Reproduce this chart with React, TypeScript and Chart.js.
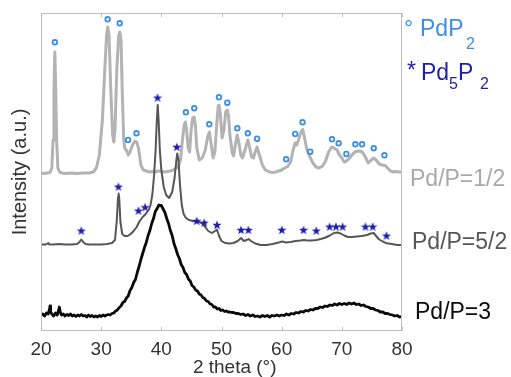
import React, { useEffect, useRef } from "react";
import { Chart, registerables } from "chart.js";

Chart.register(...registerables);

// ---- data (2 theta in degrees, intensity in arbitrary units) ----
const xTicks = [20, 30, 40, 50, 60, 70, 80];
const seriesLabels = ["Pd/P=1/2", "Pd/P=5/2", "Pd/P=3"];

const grayCurve: [number, number][] = [
  [20.0, 158], [20.5, 157.5], [21.0, 158], [21.5, 158.5], [21.8, 163], [22.0, 191], [22.15, 241], [22.3, 279],
  [22.45, 241], [22.6, 191], [22.8, 163], [23.1, 159], [23.5, 158], [24, 157.5], [25, 158], [26, 157.5],
  [27, 158], [28, 158], [28.7, 159], [29.2, 163], [29.7, 176], [30.2, 211], [30.6, 261], [30.9, 296],
  [31.1, 304], [31.3, 296], [31.6, 241], [31.9, 196], [32.1, 189], [32.3, 201], [32.6, 261], [32.9, 295],
  [33.1, 299], [33.3, 291], [33.5, 241], [33.75, 191], [33.95, 182], [34.2, 181], [34.5, 176], [34.8, 179],
  [35.2, 186], [35.6, 190], [35.9, 189], [36.2, 183], [36.6, 166], [37.0, 161], [37.5, 160], [38, 159],
  [38.5, 159.5], [39, 159], [39.5, 160], [40, 159.5], [40.5, 159], [41, 159.5], [41.5, 160], [42, 161],
  [42.5, 163], [42.9, 166], [43.2, 171], [43.5, 191], [43.8, 206], [44.0, 209], [44.2, 201], [44.45, 183],
  [44.7, 179], [44.95, 201], [45.2, 213], [45.45, 214], [45.65, 206], [45.9, 183], [46.3, 171], [46.8, 173],
  [47.3, 181], [47.7, 194], [48.0, 199], [48.3, 186], [48.6, 173], [48.9, 179], [49.2, 206], [49.45, 225],
  [49.6, 226], [49.8, 216], [50.1, 193], [50.4, 201], [50.7, 219], [50.95, 221], [51.15, 216], [51.4, 196],
  [51.8, 178], [52.0, 175], [52.3, 186], [52.6, 196], [52.9, 188], [53.2, 176], [53.5, 173], [53.9, 181],
  [54.4, 191], [54.7, 183], [55.0, 174], [55.3, 173], [55.6, 179], [55.9, 184], [56.3, 176], [56.8, 166],
  [57.3, 161], [58, 159], [58.5, 158.5], [59, 159], [59.5, 160], [60, 161], [60.5, 163], [61, 164.5],
  [61.5, 169], [61.9, 181], [62.25, 188], [62.5, 186], [62.8, 191], [63.2, 199], [63.5, 201.5], [63.8, 193],
  [64.2, 181], [64.7, 174], [65.2, 168], [65.7, 164], [66.2, 163], [66.8, 165], [67.3, 170], [67.8, 179],
  [68.3, 184], [68.7, 183], [69.2, 181], [69.6, 176], [70.0, 173], [70.4, 169], [70.8, 170], [71.3, 173],
  [71.8, 177], [72.3, 179.5], [72.9, 180], [73.4, 179], [73.9, 174], [74.4, 168], [74.9, 171], [75.3, 173],
  [75.7, 171], [76.2, 167], [76.7, 166], [77.2, 165.5], [77.6, 163], [78.1, 160], [78.6, 159], [79.0, 159.5],
  [79.5, 159], [80, 159],
];

const darkCurve: [number, number][] = [
  [20.0, 86.5], [20.8, 86.5], [21.2, 88], [21.4, 86.5], [22, 86.5], [23, 87], [24, 86.5], [25, 86.5],
  [26, 87], [26.4, 89], [26.7, 91.5], [27.0, 89], [27.4, 87], [28, 86.5], [29, 86.5], [30, 86.5],
  [31, 87], [31.8, 88], [32.3, 91], [32.6, 111], [32.8, 134], [32.9, 137.5], [33.0, 133], [33.2, 109],
  [33.5, 97], [33.9, 95], [34.4, 95], [34.9, 97], [35.4, 100], [35.9, 104], [36.4, 110], [36.9, 114],
  [37.4, 117], [37.9, 121], [38.2, 126], [38.5, 136], [38.8, 156], [39.05, 181], [39.25, 211], [39.4, 226],
  [39.55, 211], [39.75, 181], [40.0, 161], [40.4, 144], [40.8, 136], [41.3, 133], [41.8, 139], [42.2, 153],
  [42.5, 171], [42.65, 177.5], [42.85, 171], [43.1, 146], [43.4, 126], [43.7, 117], [44.1, 113], [44.6, 111],
  [45.2, 110], [45.8, 109.5], [46.3, 109], [46.9, 107], [47.3, 104], [47.8, 100], [48.4, 98], [48.9, 100],
  [49.25, 101.5], [49.6, 95], [50.0, 90], [50.6, 88], [51.3, 87.5], [52.0, 88], [52.7, 90], [53.25, 93],
  [53.7, 90], [54.2, 91], [54.5, 92], [54.9, 90], [55.6, 87.5], [56.5, 86], [57.5, 86], [58.5, 87],
  [59.5, 88.5], [60.1, 89.5], [60.7, 88.5], [61.5, 89], [62.3, 90], [63.1, 90.5], [63.7, 91], [64.3, 90.5],
  [65.0, 90.5], [65.8, 91], [66.5, 92], [67.3, 93.5], [68.0, 95.5], [68.7, 98], [69.2, 98.5], [69.8, 97.5],
  [70.4, 95.5], [71.0, 94], [71.7, 94], [72.5, 94.5], [73.3, 95], [74.2, 96], [74.8, 97.5], [75.3, 98],
  [75.7, 95], [76.2, 91.5], [76.8, 89.5], [77.5, 87.7], [78.3, 87], [79.2, 86], [80, 86],
];

const blackCurve: [number, number][] = [
  [20.0, 16], [20.3, 17], [20.6, 15], [20.9, 18], [21.2, 17], [21.4, 22], [21.5, 25], [21.6, 19],
  [21.8, 17], [22.1, 15], [22.4, 18], [22.7, 16], [22.9, 20], [23.05, 24], [23.2, 19], [23.4, 16],
  [23.7, 17], [24.0, 15], [24.3, 16.5], [24.6, 15.5], [24.9, 17], [25.2, 15], [25.5, 16], [25.8, 14.5],
  [26.1, 16], [26.4, 15], [26.7, 16.5], [27.0, 15], [27.3, 15.5], [27.6, 14], [27.9, 16], [28.2, 14.5],
  [28.5, 15.5], [28.8, 14], [29.1, 15], [29.4, 14], [29.7, 15.5], [30.0, 14.5], [30.3, 16], [30.6, 15],
  [30.9, 16], [31.2, 16.5], [31.5, 16], [31.8, 17.5], [32.1, 18], [32.4, 20], [32.7, 21], [33.0, 23.5],
  [33.3, 25], [33.6, 28.5], [33.9, 29.5], [34.2, 33], [34.5, 35], [34.8, 40.5], [35.1, 43.5], [35.4, 48.5],
  [35.7, 51.5], [36.0, 58.5], [36.3, 64.5], [36.6, 71.5], [36.9, 77.5], [37.2, 83.5], [37.5, 88.5], [37.8, 95.5],
  [38.1, 100.5], [38.4, 107.5], [38.7, 112.5], [39.0, 119.5], [39.3, 122.5], [39.6, 126], [39.8, 125.5], [40.0, 125.5],
  [40.3, 122], [40.6, 118.5], [40.9, 112.5], [41.2, 107.5], [41.5, 100.5], [41.8, 95.5], [42.1, 87.5], [42.4, 82.5],
  [42.7, 76.5], [43.0, 72.5], [43.3, 66.5], [43.6, 63.5], [43.9, 58.5], [44.2, 56.5], [44.5, 52], [44.8, 50],
  [45.1, 45.5], [45.4, 44], [45.7, 41], [46.0, 40], [46.3, 37], [46.6, 36], [46.9, 33.5], [47.2, 32.5],
  [47.5, 30], [47.8, 29.5], [48.1, 27], [48.4, 26.5], [48.7, 24], [49.0, 24], [49.3, 22], [49.6, 22.5],
  [49.9, 20.5], [50.2, 21], [50.5, 19.5], [50.8, 20], [51.1, 19], [51.4, 19], [51.7, 18.5], [52.0, 18.5],
  [52.4, 17.5], [52.8, 17.5], [53.2, 16.5], [53.6, 17], [54.0, 15.5], [54.4, 16.5], [54.8, 15], [55.2, 16],
  [55.6, 14.5], [56.0, 15], [56.4, 14], [56.8, 15.5], [57.2, 14.5], [57.6, 15.5], [58.0, 14], [58.4, 15.5],
  [58.8, 15], [59.2, 16], [59.6, 15], [60.0, 16], [60.4, 15.5], [60.8, 17], [61.2, 16], [61.6, 17.5],
  [62.0, 17], [62.4, 18.5], [62.8, 18], [63.2, 19.5], [63.6, 19], [64.0, 20.5], [64.4, 20], [64.8, 21.5],
  [65.2, 21], [65.6, 22.5], [66.0, 22.5], [66.4, 24], [66.8, 23.5], [67.2, 25], [67.6, 24.5], [68.0, 26],
  [68.4, 25.5], [68.8, 27], [69.2, 26], [69.6, 27.5], [70.0, 26.5], [70.4, 27.5], [70.8, 26.5], [71.2, 28],
  [71.6, 27], [72.0, 28], [72.4, 26.5], [72.8, 27], [73.2, 25.5], [73.6, 26], [74.0, 24.5], [74.4, 24],
  [74.8, 22.5], [75.2, 22.5], [75.6, 21], [76.0, 20.5], [76.4, 19], [76.8, 19], [77.2, 17.5], [77.6, 17.5],
  [78.0, 16.5], [78.4, 16], [78.8, 15], [79.2, 15.5], [79.6, 14], [80.0, 14.5],
];

// phase markers (peak position, marker height)
const pdp2Markers: [number, number][] = [
  [22.3, 288.7], [31.08, 311.7], [33.08, 307.7], [34.47, 191], [35.87, 197.7], [44.08, 218.7],
  [45.47, 222.7], [47.97, 206.7], [49.58, 233.7], [50.97, 228.3], [52.63, 202.7], [54.37, 197.7],
  [55.92, 192.3], [60.75, 171.7], [62.25, 197], [63.47, 208.7], [64.75, 179.3], [68.37, 191.7],
  [69.47, 187.7], [70.75, 177], [72.25, 186.7], [73.37, 186.7], [75.3, 182.7], [77.08, 175.7],
];

const pd5p2Markers: [number, number][] = [
  [26.7, 100.3], [32.87, 144.3], [36.2, 120.3], [37.3, 123.7], [39.37, 233.3], [42.58, 184],
  [45.87, 110], [47.13, 108.3], [49.25, 106], [53.25, 101], [54.47, 101], [60.03, 101],
  [63.63, 101], [65.75, 100.3], [67.97, 104.3], [69.03, 104.3], [70.13, 104.3], [73.92, 104.3],
  [75.13, 104.3], [77.42, 95.3],
];

const FONT = "'Liberation Sans', Arial, Helvetica, sans-serif";
const PDP2_COLOR = "#3d8fe6";
const PD5P2_COLOR = "#1f1fae";
const seriesColors = ["#b3b3b3", "#565656", "#0a0a0a"];

function toXY(arr: [number, number][]) {
  return arr.map(([x, y]) => ({ x, y }));
}

function makeStar(color: string) {
  const c = document.createElement("canvas");
  c.width = 10;
  c.height = 10;
  const g = c.getContext("2d")!;
  const R = 4.8, r = 2.0, cx = 5, cy = 5.3;
  g.beginPath();
  for (let i = 0; i < 10; i++) {
    const ang = -Math.PI / 2 + (i * Math.PI) / 5;
    const rad = i % 2 === 0 ? R : r;
    const px = cx + rad * Math.cos(ang);
    const py = cy + rad * Math.sin(ang);
    if (i === 0) g.moveTo(px, py);
    else g.lineTo(px, py);
  }
  g.closePath();
  g.fillStyle = color;
  g.fill();
  return c;
}

const decorPlugin = {
  id: "decor",
  afterDatasetsDraw(chart: any) {
    const { ctx, chartArea: a, scales } = chart;
    const xs = scales.x;
    const ys = scales.y;
    ctx.save();
    // frame
    ctx.strokeStyle = "#bdbdbd";
    ctx.lineWidth = 1;
    ctx.strokeRect(a.left + 0.5, a.top + 0.5, a.right - a.left - 1, a.bottom - a.top - 1);
    // inward tick marks, top and bottom
    ctx.beginPath();
    for (const t of xTicks) {
      const px = Math.round(xs.getPixelForValue(t)) + 0.5;
      ctx.moveTo(px, a.bottom);
      ctx.lineTo(px, a.bottom - 4);
      ctx.moveTo(px, a.top);
      ctx.lineTo(px, a.top + 4);
    }
    ctx.stroke();

    // series labels at the right end of each curve
    const curves = [grayCurve, darkCurve, blackCurve];
    const dy = [8, -2, -4];
    const dx = [8, 10, 13];
    ctx.font = `23px ${FONT}`;
    ctx.textBaseline = "middle";
    ctx.textAlign = "left";
    curves.forEach((c, i) => {
      const last = c[c.length - 1];
      ctx.fillStyle = i === 0 ? "#a9a9a9" : seriesColors[i];
      ctx.fillText(seriesLabels[i], a.right + dx[i], ys.getPixelForValue(last[1]) + dy[i]);
    });

    // phase key
    ctx.textBaseline = "alphabetic";
    const R = a.right;
    const T = a.top;
    ctx.fillStyle = PDP2_COLOR;
    ctx.font = `23px ${FONT}`;
    ctx.fillText("°", R + 2, T + 23);
    ctx.fillText("PdP", R + 18, T + 23);
    ctx.font = `16px ${FONT}`;
    ctx.fillText("2", R + 64, T + 35.5);

    ctx.fillStyle = PD5P2_COLOR;
    ctx.font = `23px ${FONT}`;
    ctx.fillText("*", R + 5, T + 65);
    ctx.fillText("Pd", R + 19, T + 67);
    ctx.font = `16px ${FONT}`;
    ctx.fillText("5", R + 47, T + 75.5);
    ctx.font = `23px ${FONT}`;
    ctx.fillText("P", R + 56, T + 67);
    ctx.font = `16px ${FONT}`;
    ctx.fillText("2", R + 78, T + 75.5);
    ctx.restore();
  },
};

export default function App() {
  const ref = useRef<HTMLCanvasElement | null>(null);
  useEffect(() => {
    if (!ref.current) return;
    const star = makeStar(PD5P2_COLOR);
    const chart = new Chart(ref.current, {
      type: "scatter",
      data: {
        datasets: [
          {
            label: "PdP2",
            data: toXY(pdp2Markers),
            showLine: false,
            pointStyle: "circle",
            pointRadius: 2.3,
            pointBorderWidth: 1.8,
            pointBorderColor: PDP2_COLOR,
            pointBackgroundColor: "#ffffff",
          },
          {
            label: "Pd5P2",
            data: toXY(pd5p2Markers),
            showLine: false,
            pointStyle: star as any,
            pointRadius: 4,
          },
          {
            label: seriesLabels[2],
            data: toXY(blackCurve),
            showLine: true,
            borderColor: seriesColors[2],
            borderWidth: 2.8,
            pointRadius: 0,
            tension: 0,
            borderJoinStyle: "round",
          },
          {
            label: seriesLabels[1],
            data: toXY(darkCurve),
            showLine: true,
            borderColor: seriesColors[1],
            borderWidth: 2,
            pointRadius: 0,
            tension: 0,
            borderJoinStyle: "round",
          },
          {
            label: seriesLabels[0],
            data: toXY(grayCurve),
            showLine: true,
            borderColor: seriesColors[0],
            borderWidth: 3,
            pointRadius: 0,
            tension: 0,
            borderJoinStyle: "round",
          },
        ],
      },
      options: {
        responsive: false,
        animation: false,
        events: [],
        layout: { padding: { top: 13, right: 109, left: 0, bottom: 0 } },
        plugins: { legend: { display: false }, tooltip: { enabled: false } },
        scales: {
          x: {
            type: "linear",
            min: 20,
            max: 80,
            afterFit: (s: any) => {
              s.height = 46;
            },
            afterBuildTicks: (s: any) => {
              s.ticks = xTicks.map((v) => ({ value: v }));
            },
            grid: { display: false, drawTicks: false },
            border: { display: false },
            ticks: {
              color: "#333333",
              padding: 7,
              font: { family: FONT, size: 19 },
            },
            title: {
              display: true,
              text: "     2 theta (°)",
              color: "#333333",
              font: { family: FONT, size: 19, lineHeight: 0.95 },
              padding: { top: 0, bottom: 0 },
            },
          },
          y: {
            type: "linear",
            min: 0,
            max: 318,
            afterFit: (s: any) => {
              s.width = 41;
            },
            grid: { display: false, drawTicks: false },
            border: { display: false },
            ticks: { display: false },
            title: {
              display: true,
              text: "Intensity (a.u.)",
              color: "#333333",
              font: { family: FONT, size: 20 },
              padding: { top: 8.5, bottom: 0 },
            },
          },
        },
      },
      plugins: [decorPlugin],
    });
    return () => chart.destroy();
  }, []);

  return (
    <div style={{ position: "absolute", left: 0, top: 0, width: 511, height: 377, background: "#ffffff" }}>
      <canvas ref={ref} width={511} height={377} />
    </div>
  );
}
